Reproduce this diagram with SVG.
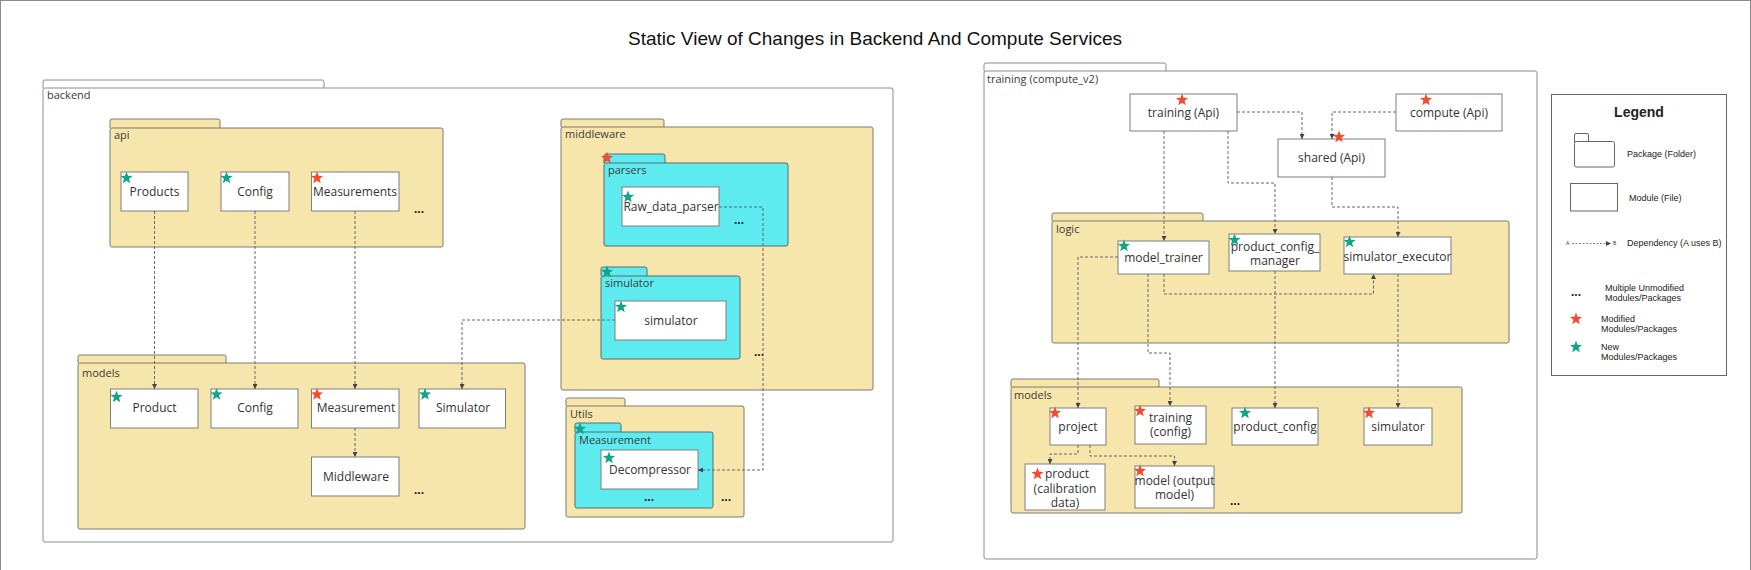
<svg xmlns="http://www.w3.org/2000/svg" width="1751" height="570" viewBox="0 0 1751 570">
<style>
.frame{fill:none;stroke:#8c8c8c;stroke-width:1}
.pkgw{fill:#ffffff;stroke:#8c8c8c;stroke-width:1}
.pkgy{fill:#f7e6ab;stroke:#7d7a6e;stroke-width:1}
.pkgc{fill:#5eebef;stroke:#5f6b6e;stroke-width:1}
.mod{fill:#ffffff;stroke:#7f7f7f;stroke-width:1}
.mt{font-family:"Open Sans","Noto Sans",sans-serif;font-size:12px;fill:#333;text-anchor:middle}
.pl{font-family:"Open Sans","Noto Sans",sans-serif;font-size:11px;fill:#3a3a3a}
.dots{font-family:"Liberation Sans",Arial,sans-serif;font-size:12px;font-weight:bold;fill:#222;text-anchor:middle}
.dep{fill:none;stroke:#666;stroke-width:1;stroke-dasharray:3 2;marker-end:url(#arr)}
.lg{font-family:"Liberation Sans",Arial,sans-serif;font-size:9px;fill:#222}
.lgi{fill:#fff;stroke:#666;stroke-width:1}
</style>
<defs>
<marker id="arr" viewBox="0 0 6 6" refX="6" refY="3" markerWidth="5" markerHeight="5" markerUnits="userSpaceOnUse" orient="auto">
<path d="M0,0 L6,3 L0,6 z" fill="#444"/>
</marker>
<path id="star" d="M0,-6.4 L1.57,-2.16 L6.08,-1.98 L2.55,0.83 L3.76,5.18 L0,2.68 L-3.76,5.18 L-2.55,0.83 L-6.08,-1.98 L-1.57,-2.16 Z"/>
<use id="sr" href="#star" fill="#f24b2e"/>
<use id="sg" href="#star" fill="#12a487"/>
</defs>

<rect class="frame" x="0.5" y="0.5" width="1750" height="620"/>
<text x="875" y="45" font-family="Liberation Sans, Arial, sans-serif" font-size="19" fill="#111" text-anchor="middle">Static View of Changes in Backend And Compute Services</text>

<!-- backend -->
<g id="backend">
<path class="pkgw" d="M43,88 V82 Q43,80 45,80 H322 Q324,80 324,82 V88"/>
<rect class="pkgw" x="43" y="88" width="850" height="454" rx="2"/>
<text class="pl" x="47" y="99">backend</text>

<g id="api">
<path class="pkgy" d="M110,128 V121 Q110,119 112,119 H218 Q220,119 220,121 V128"/>
<rect class="pkgy" x="110" y="128" width="333" height="119" rx="2"/>
<text class="pl" x="114" y="139">api</text>
<g id="api-products"><rect class="mod" x="121" y="172" width="67" height="39"/><use href="#sg" x="126.5" y="178"/><text class="mt" x="154.5" y="196">Products</text></g>
<g id="api-config"><rect class="mod" x="221" y="172" width="68" height="39"/><use href="#sg" x="226.5" y="178"/><text class="mt" x="255" y="196">Config</text></g>
<g id="api-measurements"><rect class="mod" x="311.5" y="172" width="87.5" height="39"/><use href="#sr" x="317" y="178"/><text class="mt" x="355" y="196">Measurements</text></g>
<text class="dots" x="419" y="213">...</text>
</g>

<g id="models-backend">
<path class="pkgy" d="M78,363 V357 Q78,355 80,355 H224 Q226,355 226,357 V363"/>
<rect class="pkgy" x="78" y="363" width="447" height="166" rx="2"/>
<text class="pl" x="82" y="377">models</text>
<g id="m-product"><rect class="mod" x="110.5" y="389" width="87.5" height="39"/><use href="#sg" x="116.5" y="397"/><text class="mt" x="154.5" y="412">Product</text></g>
<g id="m-config"><rect class="mod" x="211" y="389" width="87" height="39"/><use href="#sg" x="216.5" y="394.5"/><text class="mt" x="255" y="412">Config</text></g>
<g id="m-measurement"><rect class="mod" x="311.5" y="389" width="87.5" height="39"/><use href="#sr" x="317" y="394.5"/><text class="mt" x="356" y="412">Measurement</text></g>
<g id="m-simulator"><rect class="mod" x="419" y="389" width="86.5" height="39"/><use href="#sg" x="425" y="394.5"/><text class="mt" x="463" y="412">Simulator</text></g>
<g id="m-middleware"><rect class="mod" x="311.5" y="457" width="87.5" height="39"/><text class="mt" x="356" y="481">Middleware</text></g>
<text class="dots" x="419" y="494">...</text>
</g>

<g id="middleware">
<path class="pkgy" d="M561,127 V121 Q561,119 563,119 H662 Q664,119 664,121 V127"/>
<rect class="pkgy" x="561" y="127" width="312" height="263" rx="2"/>
<text class="pl" x="565" y="138">middleware</text>
<g id="parsers">
<path class="pkgc" d="M604,163 V156 Q604,154 606,154 H663 Q665,154 665,156 V163"/>
<rect class="pkgc" x="604" y="163" width="184" height="83" rx="2"/>
<use href="#sr" x="607" y="158"/>
<text class="pl" x="608" y="174">parsers</text>
<g id="raw-data-parser"><rect class="mod" x="622" y="187" width="97" height="39"/><use href="#sg" x="628" y="197"/><text class="mt" x="671" y="211">Raw_data_parser</text></g>
<text class="dots" x="739" y="224">...</text>
</g>
<g id="simulator-pkg">
<path class="pkgc" d="M601,276 V269 Q601,267 603,267 H645 Q647,267 647,269 V276"/>
<rect class="pkgc" x="601" y="276" width="139" height="83" rx="2"/>
<use href="#sg" x="607" y="272"/>
<text class="pl" x="605" y="287">simulator</text>
<g id="simulator-mod"><rect class="mod" x="615" y="301" width="111" height="39"/><use href="#sg" x="621" y="307"/><text class="mt" x="671" y="325">simulator</text></g>
</g>
<text class="dots" x="759" y="356">...</text>
</g>

<g id="utils">
<path class="pkgy" d="M566,406 V400 Q566,398 568,398 H623 Q625,398 625,400 V406"/>
<rect class="pkgy" x="566" y="406" width="178" height="111" rx="2"/>
<text class="pl" x="570" y="418">Utils</text>
<g id="utils-measurement">
<path class="pkgc" d="M575,432 V425 Q575,423 577,423 H619 Q621,423 621,425 V432"/>
<rect class="pkgc" x="575" y="432" width="138" height="76" rx="2"/>
<use href="#sg" x="580" y="429"/>
<text class="pl" x="579" y="444">Measurement</text>
<g id="decompressor"><rect class="mod" x="601" y="450" width="97" height="39"/><use href="#sg" x="609" y="458"/><text class="mt" x="650" y="474">Decompressor</text></g>
<text class="dots" x="649" y="501">...</text>
</g>
<text class="dots" x="726" y="501">...</text>
</g>
</g>

<!-- training -->
<g id="training">
<path class="pkgw" d="M984,71 V65 Q984,63 986,63 H1164 Q1166,63 1166,65 V71"/>
<rect class="pkgw" x="984" y="71" width="553" height="488" rx="2"/>
<text class="pl" x="987" y="83">training (compute_v2)</text>
<g id="training-api"><rect class="mod" x="1130" y="94" width="107" height="37"/><use href="#sr" x="1182" y="100"/><text class="mt" x="1183.5" y="117">training (Api)</text></g>
<g id="compute-api"><rect class="mod" x="1396" y="94" width="106" height="37"/><use href="#sr" x="1426" y="100"/><text class="mt" x="1449" y="117">compute (Api)</text></g>
<g id="shared-api"><rect class="mod" x="1278" y="139" width="107" height="38"/><text class="mt" x="1331.5" y="162">shared (Api)</text></g>

<g id="logic">
<path class="pkgy" d="M1052,221 V215 Q1052,213 1054,213 H1201 Q1203,213 1203,215 V221"/>
<rect class="pkgy" x="1052" y="221" width="457" height="122" rx="2"/>
<text class="pl" x="1056" y="233">logic</text>
<g id="model-trainer"><rect class="mod" x="1118" y="241" width="91" height="33"/><use href="#sg" x="1124" y="246"/><text class="mt" x="1163.5" y="262">model_trainer</text></g>
<g id="product-config-manager"><rect class="mod" x="1229" y="234" width="91" height="37"/><use href="#sg" x="1234.5" y="240"/><text class="mt" x="1275" y="251">product_config_</text><text class="mt" x="1275" y="265">manager</text></g>
<g id="simulator-executor"><rect class="mod" x="1344" y="237" width="107" height="37"/><use href="#sg" x="1349.5" y="242"/><text class="mt" x="1397.5" y="261">simulator_executor</text></g>
</g>

<g id="models-training">
<path class="pkgy" d="M1011,387 V381 Q1011,379 1013,379 H1157 Q1159,379 1159,381 V387"/>
<rect class="pkgy" x="1011" y="387" width="451" height="126" rx="2"/>
<text class="pl" x="1014" y="399">models</text>
<g id="project"><rect class="mod" x="1050" y="408" width="56" height="37"/><use href="#sr" x="1055" y="413"/><text class="mt" x="1078" y="431">project</text></g>
<g id="training-config"><rect class="mod" x="1135" y="406" width="71" height="38"/><use href="#sr" x="1140" y="411"/><text class="mt" x="1170.5" y="422">training</text><text class="mt" x="1170.5" y="436">(config)</text></g>
<g id="product-config"><rect class="mod" x="1232" y="408" width="86" height="37"/><use href="#sg" x="1245" y="413"/><text class="mt" x="1275" y="431">product_config</text></g>
<g id="simulator-model"><rect class="mod" x="1364" y="408" width="68" height="37"/><use href="#sr" x="1369" y="413"/><text class="mt" x="1398" y="431">simulator</text></g>
<g id="product-calibration"><rect class="mod" x="1025" y="464" width="80" height="46"/><use href="#sr" x="1037.5" y="474"/><text class="mt" x="1067" y="478">product</text><text class="mt" x="1065" y="493">(calibration</text><text class="mt" x="1065" y="507">data)</text></g>
<g id="model-output"><rect class="mod" x="1135" y="466" width="79" height="42"/><use href="#sr" x="1140" y="471"/><text class="mt" x="1174.5" y="485">model (output</text><text class="mt" x="1174.5" y="499">model)</text></g>
<text class="dots" x="1235" y="505">...</text>
</g>
<use href="#sr" x="1339" y="137"/>
</g>

<!-- connectors -->
<g id="connectors">
<path class="dep" d="M154.5,211 V389"/>
<path class="dep" d="M255,211 V389"/>
<path class="dep" d="M355,211 V389"/>
<path class="dep" d="M355,428 V457"/>
<path class="dep" d="M615,320 H462 V389"/>
<path class="dep" d="M719,207 H763 V470 H698"/>
<path class="dep" d="M1237,112 H1302 V139"/>
<path class="dep" d="M1396,112 H1332 V139"/>
<path class="dep" d="M1164,131 V241"/>
<path class="dep" d="M1228,131 V183 H1275 V234"/>
<path class="dep" d="M1332,177 V207 H1398 V237"/>
<path class="dep" d="M1118,257 H1078 V408"/>
<path class="dep" d="M1148,274 V353 H1170 V406"/>
<path class="dep" d="M1164,274 V294 H1373.5 V274"/>
<path class="dep" d="M1275,271 V408"/>
<path class="dep" d="M1398,274 V408"/>
<path class="dep" d="M1078,445 V454 H1050 V464"/>
<path class="dep" d="M1090,445 V456 H1174.5 V466"/>
</g>

<!-- legend -->
<g id="legend">
<rect x="1551.5" y="94.5" width="175" height="281" fill="#fff" stroke="#666" stroke-width="1"/>
<text x="1639" y="117" font-family="Liberation Sans, Arial, sans-serif" font-size="14" font-weight="bold" fill="#222" text-anchor="middle">Legend</text>
<path class="lgi" d="M1574.5,142 V135 Q1574.5,133.5 1576,133.5 H1587 Q1588.5,133.5 1588.5,135 V142"/>
<rect class="lgi" x="1574.5" y="141.5" width="40" height="25.5" rx="2"/>
<text class="lg" x="1627" y="157">Package (Folder)</text>
<rect class="lgi" x="1570.5" y="183.5" width="47" height="27.5"/>
<text class="lg" x="1629" y="201">Module (File)</text>
<text x="1566" y="245" font-family="Liberation Sans, Arial, sans-serif" font-size="5" fill="#333">A</text>
<path d="M1572,243.5 H1611" fill="none" stroke="#666" stroke-width="0.8" stroke-dasharray="2 1.5" marker-end="url(#arr)"/>
<text x="1613" y="245" font-family="Liberation Sans, Arial, sans-serif" font-size="5" fill="#333">B</text>
<text class="lg" x="1627" y="246">Dependency (A uses B)</text>
<text class="dots" x="1576" y="296">...</text>
<text class="lg" x="1605" y="291">Multiple Unmodified</text>
<text class="lg" x="1605" y="301">Modules/Packages</text>
<use href="#sr" x="1576" y="319"/>
<text class="lg" x="1601" y="322">Modified</text>
<text class="lg" x="1601" y="332">Modules/Packages</text>
<use href="#sg" x="1576" y="347"/>
<text class="lg" x="1601" y="350">New</text>
<text class="lg" x="1601" y="360">Modules/Packages</text>
</g>
</svg>
